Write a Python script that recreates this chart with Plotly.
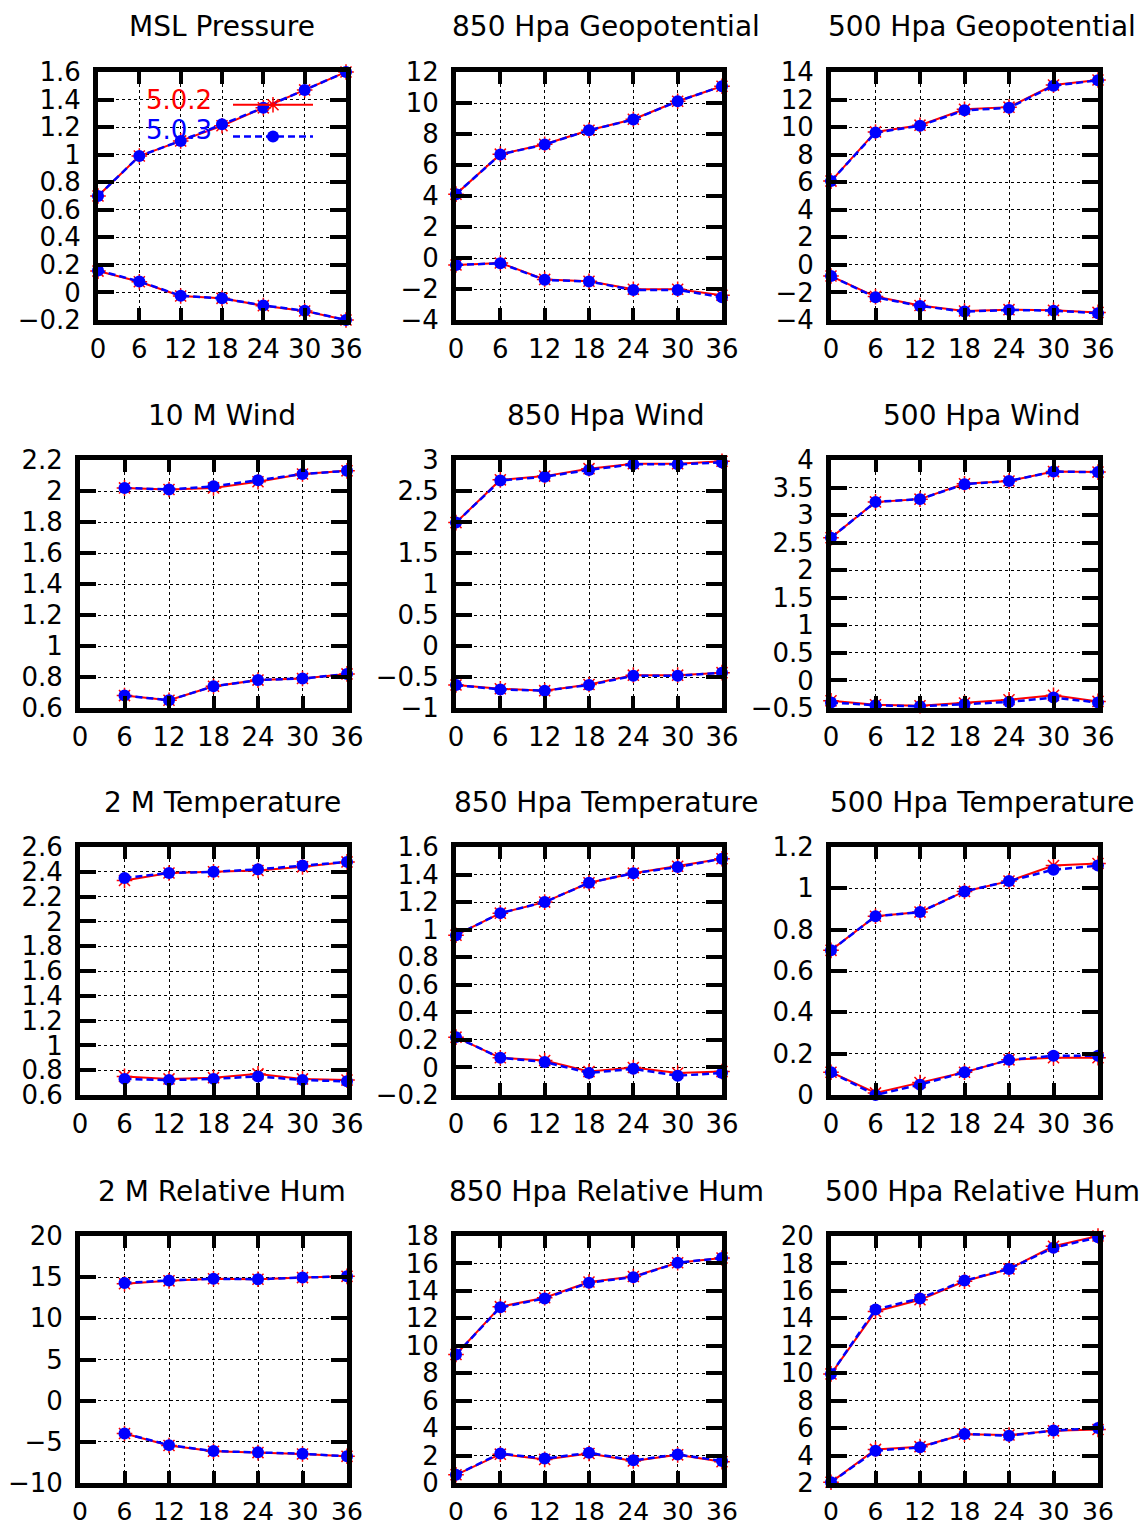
import plotly.graph_objects as go

# ---------------- data ----------------
STEPS = [0, 6, 12, 18, 24, 30, 36]
X_TICKS = [0, 6, 12, 18, 24, 30, 36]
VERSIONS = ["5.0.2", "5.0.3"]
TITLES = ["MSL Pressure", "850 Hpa Geopotential", "500 Hpa Geopotential",
          "10 M Wind", "850 Hpa Wind", "500 Hpa Wind",
          "2 M Temperature", "850 Hpa Temperature", "500 Hpa Temperature",
          "2 M Relative Hum", "850 Hpa Relative Hum", "500 Hpa Relative Hum"]

# MSL Pressure
mslp_rmse_502 = [0.70, 0.99, 1.10, 1.21, 1.34, 1.47, 1.60]
mslp_rmse_503 = [0.70, 0.99, 1.10, 1.22, 1.34, 1.47, 1.60]
mslp_bias_502 = [0.155, 0.078, -0.026, -0.043, -0.096, -0.135, -0.20]
mslp_bias_503 = [0.160, 0.080, -0.024, -0.043, -0.094, -0.133, -0.20]
# 850 hPa geopotential
z850_rmse_502 = [4.12, 6.70, 7.34, 8.24, 8.95, 10.11, 11.08]
z850_rmse_503 = [4.12, 6.68, 7.32, 8.24, 8.93, 10.11, 11.08]
z850_bias_502 = [-0.45, -0.32, -1.38, -1.50, -2.02, -2.02, -2.40]
z850_bias_503 = [-0.45, -0.34, -1.41, -1.52, -2.06, -2.06, -2.53]
# 500 hPa geopotential
z500_rmse_502 = [6.08, 9.65, 10.14, 11.30, 11.45, 13.05, 13.42]
z500_rmse_503 = [6.08, 9.60, 10.10, 11.22, 11.40, 13.00, 13.40]
z500_bias_502 = [-0.81, -2.30, -2.95, -3.35, -3.25, -3.30, -3.45]
z500_bias_503 = [-0.81, -2.35, -2.98, -3.39, -3.27, -3.32, -3.51]
# 10 m wind
w10_rmse_502 = [None, 2.02, 2.01, 2.02, 2.06, 2.11, 2.13]
w10_rmse_503 = [None, 2.02, 2.01, 2.03, 2.07, 2.11, 2.13]
w10_bias_502 = [None, 0.68, 0.65, 0.74, 0.78, 0.79, 0.82]
w10_bias_503 = [None, 0.68, 0.65, 0.74, 0.78, 0.79, 0.82]
# 850 hPa wind
w850_rmse_502 = [1.99, 2.68, 2.74, 2.86, 2.94, 2.94, 2.98]
w850_rmse_503 = [1.99, 2.67, 2.73, 2.84, 2.93, 2.93, 2.96]
w850_bias_502 = [-0.63, -0.69, -0.72, -0.62, -0.47, -0.47, -0.43]
w850_bias_503 = [-0.63, -0.70, -0.72, -0.63, -0.48, -0.48, -0.43]
# 500 hPa wind
w500_rmse_502 = [2.59, 3.24, 3.29, 3.57, 3.62, 3.79, 3.78]
w500_rmse_503 = [2.59, 3.24, 3.29, 3.56, 3.62, 3.79, 3.78]
w500_bias_502 = [-0.37, -0.44, -0.46, -0.41, -0.35, -0.27, -0.38]
w500_bias_503 = [-0.40, -0.45, -0.47, -0.43, -0.39, -0.31, -0.40]
# 2 m temperature
t2_rmse_502 = [None, 2.33, 2.39, 2.40, 2.41, 2.44, 2.48]
t2_rmse_503 = [None, 2.35, 2.39, 2.40, 2.42, 2.45, 2.48]
t2_bias_502 = [None, 0.75, 0.73, 0.74, 0.77, 0.73, 0.72]
t2_bias_503 = [None, 0.73, 0.72, 0.73, 0.75, 0.72, 0.71]
# 850 hPa temperature
t850_rmse_502 = [0.96, 1.12, 1.20, 1.34, 1.41, 1.46, 1.515]
t850_rmse_503 = [0.96, 1.12, 1.20, 1.34, 1.41, 1.455, 1.515]
t850_bias_502 = [0.22, 0.07, 0.05, -0.03, 0.00, -0.04, -0.03]
t850_bias_503 = [0.22, 0.07, 0.04, -0.04, -0.01, -0.06, -0.04]
# 500 hPa temperature
t500_rmse_502 = [0.70, 0.865, 0.885, 0.985, 1.035, 1.11, 1.12]
t500_rmse_503 = [0.70, 0.865, 0.885, 0.985, 1.035, 1.09, 1.11]
t500_bias_502 = [0.11, 0.01, 0.06, 0.11, 0.17, 0.18, 0.18]
t500_bias_503 = [0.11, 0.00, 0.05, 0.11, 0.17, 0.19, 0.19]
# 2 m relative humidity
rh2_rmse_502 = [None, 14.2, 14.55, 14.8, 14.75, 14.95, 15.1]
rh2_rmse_503 = [None, 14.3, 14.6, 14.8, 14.75, 14.95, 15.1]
rh2_bias_502 = [None, -3.98, -5.45, -6.15, -6.31, -6.48, -6.76]
rh2_bias_503 = [None, -3.98, -5.40, -6.12, -6.28, -6.45, -6.76]
# 850 hPa relative humidity
rh850_rmse_502 = [9.36, 12.85, 13.5, 14.65, 15.05, 16.05, 16.4]
rh850_rmse_503 = [9.36, 12.80, 13.45, 14.60, 15.00, 16.05, 16.4]
rh850_bias_502 = [0.60, 2.10, 1.72, 2.15, 1.60, 2.05, 1.55]
rh850_bias_503 = [0.60, 2.15, 1.78, 2.20, 1.65, 2.08, 1.60]
# 500 hPa relative humidity
rh500_rmse_502 = [9.95, 14.50, 15.35, 16.70, 17.60, 19.25, 20.0]
rh500_rmse_503 = [9.95, 14.65, 15.45, 16.75, 17.60, 19.15, 19.9]
rh500_bias_502 = [2.05, 4.45, 4.65, 5.55, 5.50, 5.80, 5.90]
rh500_bias_503 = [2.05, 4.35, 4.60, 5.57, 5.45, 5.82, 6.00]

PANEL_DATA = [
    ((mslp_rmse_502, mslp_bias_502), (mslp_rmse_503, mslp_bias_503)),
    ((z850_rmse_502, z850_bias_502), (z850_rmse_503, z850_bias_503)),
    ((z500_rmse_502, z500_bias_502), (z500_rmse_503, z500_bias_503)),
    ((w10_rmse_502, w10_bias_502), (w10_rmse_503, w10_bias_503)),
    ((w850_rmse_502, w850_bias_502), (w850_rmse_503, w850_bias_503)),
    ((w500_rmse_502, w500_bias_502), (w500_rmse_503, w500_bias_503)),
    ((t2_rmse_502, t2_bias_502), (t2_rmse_503, t2_bias_503)),
    ((t850_rmse_502, t850_bias_502), (t850_rmse_503, t850_bias_503)),
    ((t500_rmse_502, t500_bias_502), (t500_rmse_503, t500_bias_503)),
    ((rh2_rmse_502, rh2_bias_502), (rh2_rmse_503, rh2_bias_503)),
    ((rh850_rmse_502, rh850_bias_502), (rh850_rmse_503, rh850_bias_503)),
    ((rh500_rmse_502, rh500_bias_502), (rh500_rmse_503, rh500_bias_503)),
]
Y_RANGES = [(-0.2, 1.6), (-4, 12), (-4, 14),
            (0.6, 2.2), (-1, 3), (-0.5, 4),
            (0.6, 2.6), (-0.2, 1.6), (0, 1.2),
            (-10, 20), (0, 18), (2, 20)]
Y_DTICKS = [0.2, 2, 2, 0.2, 0.5, 0.5, 0.2, 0.2, 0.2, 5, 2, 2]

# ---------------- layout geometry (pixels) ----------------
W, H = 1143, 1526
ROW_PX = [(72, 320), (460, 708), (847, 1095), (1236, 1483)]
COL_PX = [(80, 347), (456, 722), (831, 1098)]
COL1_ROW1_PX = (98, 346)
TITLE_X_PX = [222, 606, 982]
FONT = "DejaVu Sans"
FS_TICK = 26
FS_TITLE = 28

STYLES = [
    dict(line=dict(color="#ff0000", width=2),
         marker=dict(symbol="asterisk-open", size=13, line=dict(color="#ff0000", width=1.5))),
    dict(line=dict(color="#0000ff", width=2.5, dash="7px,4px"),
         marker=dict(symbol="circle", size=12, color="#0000ff", line=dict(width=0))),
]

fig = go.Figure()
annotations = []

for i, (title, series) in enumerate(zip(TITLES, PANEL_DATA)):
    r, c = divmod(i, 3)
    n = "" if i == 0 else str(i + 1)
    xpx = COL1_ROW1_PX if (r == 0 and c == 0) else COL_PX[c]
    ypx = ROW_PX[r]
    xdom = [xpx[0] / W, xpx[1] / W]
    ydom = [1 - ypx[1] / H, 1 - ypx[0] / H]

    for v, ((rmse, bias), st) in enumerate(zip(series, STYLES)):
        xs = STEPS + [None] + STEPS
        ys = list(rmse) + [None] + list(bias)
        fig.add_trace(go.Scatter(
            x=xs, y=ys, xaxis="x" + n, yaxis="y" + n,
            mode="lines+markers", name="", legendgroup=VERSIONS[v],
            line=st["line"], marker=st["marker"], cliponaxis=False,
            showlegend=(i == 0), connectgaps=False,
            hovertemplate=VERSIONS[v] + " %{x}: %{y}<extra></extra>",
        ))

    common = dict(
        showline=True, linewidth=5, linecolor="black", mirror="ticks",
        ticks="inside", tickcolor="black", tickwidth=4,
        showgrid=True, gridcolor="black", griddash="dot", gridwidth=1,
        zeroline=False, fixedrange=True, automargin=False,
    )
    xfs = FS_TICK - 1 if r == 3 else FS_TICK
    fig.layout["xaxis" + n] = dict(
        common, domain=xdom, anchor="y" + n, range=[0, 36],
        tickmode="array", tickvals=X_TICKS, ticklen=12, ticklabelstandoff=2,
        tickfont=dict(family=FONT, size=xfs, color="black"),
    )
    fig.layout["yaxis" + n] = dict(
        common, domain=ydom, anchor="x" + n, range=list(Y_RANGES[i]),
        tick0=0, dtick=Y_DTICKS[i], ticklen=16, ticklabelstandoff=7,
        tickfont=dict(family=FONT, size=FS_TICK, color="black"),
    )
    annotations.append(dict(
        text=title, xref="paper", yref="paper",
        x=TITLE_X_PX[c] / W, y=1 - (ypx[0] - 45) / H,
        xanchor="center", yanchor="middle", showarrow=False,
        font=dict(family=FONT, size=FS_TITLE, color="black"),
    ))

# legend texts (gnuplot style: text left of the sample)
annotations.append(dict(text="5.0.2", xref="paper", yref="paper", x=214 / W, y=1 - 100 / H,
                        xanchor="right", yanchor="middle", showarrow=False,
                        font=dict(family=FONT, size=FS_TICK, color="#ff0000")))
annotations.append(dict(text="5.0.3", xref="paper", yref="paper", x=214 / W, y=1 - 130 / H,
                        xanchor="right", yanchor="middle", showarrow=False,
                        font=dict(family=FONT, size=FS_TICK, color="#0000ff")))

fig.update_layout(
    width=W, height=H, margin=dict(l=0, r=0, t=0, b=0, autoexpand=False),
    paper_bgcolor="white", plot_bgcolor="white",
    annotations=annotations, showlegend=True,
    legend=dict(x=228 / W, y=1 - 84 / H, xanchor="left", yanchor="top",
                bgcolor="rgba(0,0,0,0)", borderwidth=0, itemwidth=80,
                tracegroupgap=0, font=dict(family=FONT, size=FS_TICK - 4)),
)

fig.write_html("out.html")
